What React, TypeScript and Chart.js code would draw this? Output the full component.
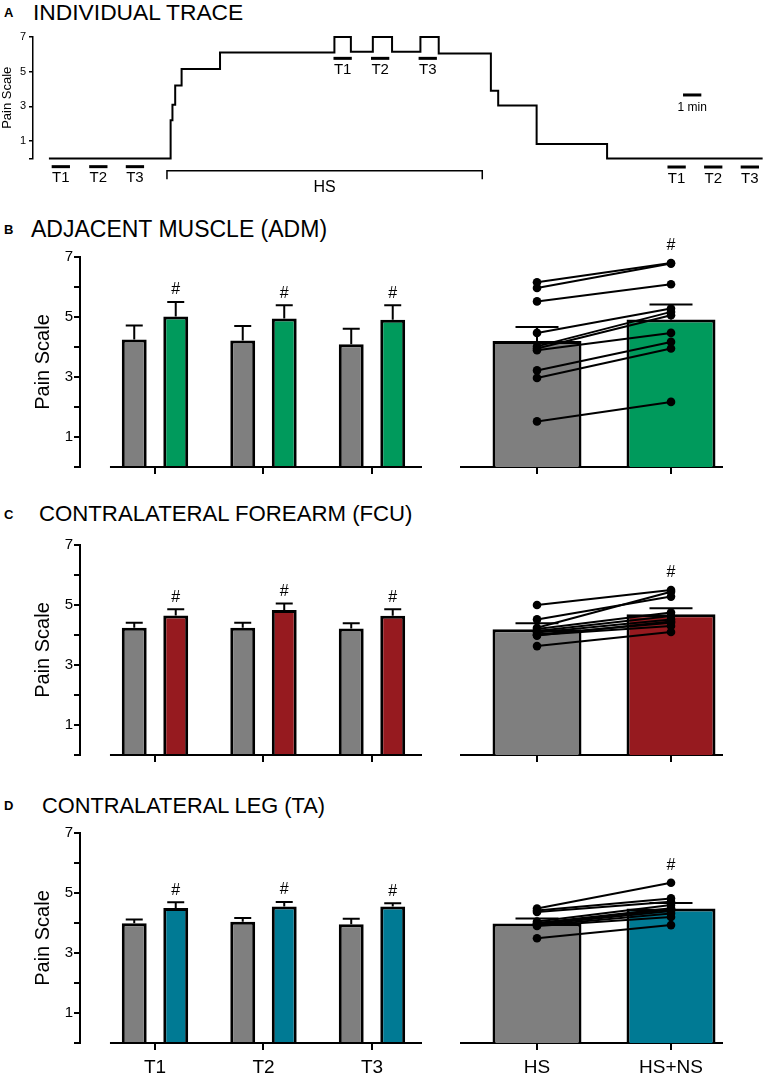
import React, { useEffect, useRef } from 'react';
import { Chart, registerables } from 'chart.js';

Chart.register(...registerables);

const FONT = '"Liberation Sans", Arial, Helvetica, sans-serif';

// ---------------- Panel A: individual trace (time in minutes) ----------------
const traceTimes = [0, 6.65, 6.75, 6.9, 7.25, 9.35, 15.6, 16.5, 17.7, 18.75, 20.3, 21.3, 24.15, 24.55, 26.65, 30.5, 39];
const traceLevels = [0, 2.2, 3.1, 4.2, 5.15, 6.1, 7.0, 6.15, 7.0, 6.15, 7.0, 6.05, 3.9, 3.05, 0.83, 0, 0];
const testLabels = ['T1', 'T2', 'T3'];
const preTestStarts = [0.15, 2.2, 4.2];
const hsTestStarts = [15.55, 17.6, 20.2];
const postTestStarts = [33.8, 35.8, 37.8];
const testDurationMin = 1;
const hsPeriod = [6.45, 23.68];
const scaleBarStartMin = 34.65;
const scaleBarLengthMin = 1;
const painTicksA = [0, 1, 3, 5, 7];

// ---------------- Panels B–D ----------------
const timeCategories = ['T1', 'T2', 'T3'];
const conditionCategories = ['HS', 'HS+NS'];
const painTicks = [0, 1, 2, 3, 4, 5, 6, 7];

// B: adjacent muscle (ADM)
const admHS = [4.25, 4.22, 4.09];
const admHSsem = [0.47, 0.48, 0.52];
const admNS = [5.02, 4.95, 4.91];
const admNSsem = [0.48, 0.44, 0.48];
const admMeans = [4.2, 4.92];
const admMeanSems = [0.47, 0.5];
const admSubjectsHS = [6.16, 5.97, 5.52, 4.47, 4.02, 3.95, 3.89, 3.22, 2.97, 1.52];
const admSubjectsNS = [6.8, 6.78, 6.09, 5.28, 5.17, 5.06, 4.47, 4.17, 3.95, 2.17];

// C: contralateral forearm (FCU)
const fcuHS = [4.24, 4.24, 4.22];
const fcuHSsem = [0.17, 0.17, 0.17];
const fcuNS = [4.65, 4.83, 4.64];
const fcuNSsem = [0.21, 0.22, 0.22];
const fcuMeans = [4.19, 4.69];
const fcuMeanSems = [0.2, 0.2];
const fcuSubjectsHS = [5.0, 4.52, 4.24, 4.2, 4.13, 4.08, 4.02, 3.98, 4.0, 3.63];
const fcuSubjectsNS = [5.5, 5.28, 5.44, 4.75, 4.63, 4.52, 4.41, 4.45, 4.3, 4.1];

// D: contralateral leg (TA)
const taHS = [3.99, 4.04, 3.96];
const taHSsem = [0.13, 0.13, 0.18];
const taNS = [4.5, 4.55, 4.55];
const taNSsem = [0.19, 0.15, 0.11];
const taMeans = [3.98, 4.48];
const taMeanSems = [0.17, 0.19];
const taSubjectsHS = [4.48, 4.42, 4.37, 4.05, 4.0, 3.98, 3.95, 3.92, 3.9, 3.49];
const taSubjectsNS = [5.34, 4.82, 4.71, 4.6, 4.49, 4.45, 4.4, 4.32, 4.2, 3.93];

// ---------------- Styles / layout ----------------
const GRAY = '#7f7f7f';
const GREEN = '#009a5c';
const RED = '#961a1f';
const TEAL = '#007a94';

const LEFT_X_MIN = 0.3088;
const LEFT_X_MAX = 3.461;
const LEFT_X_AXIS_START = 0.585;
const RIGHT_X_MIN = 0.4328;
const RIGHT_X_MAX = 2.3806;

type Panel = {
  top7: number;
  hs: number[]; hsSem: number[]; ns: number[]; nsSem: number[];
  means: number[]; meanSems: number[];
  subjHS: number[]; subjNS: number[];
  color: string; showLabels: boolean;
};

const panels: Panel[] = [
  { top7: 257, hs: admHS, hsSem: admHSsem, ns: admNS, nsSem: admNSsem, means: admMeans, meanSems: admMeanSems, subjHS: admSubjectsHS, subjNS: admSubjectsNS, color: GREEN, showLabels: false },
  { top7: 545, hs: fcuHS, hsSem: fcuHSsem, ns: fcuNS, nsSem: fcuNSsem, means: fcuMeans, meanSems: fcuMeanSems, subjHS: fcuSubjectsHS, subjNS: fcuSubjectsNS, color: RED, showLabels: false },
  { top7: 833, hs: taHS, hsSem: taHSsem, ns: taNS, nsSem: taNSsem, means: taMeans, meanSems: taMeanSems, subjHS: taSubjectsHS, subjNS: taSubjectsNS, color: TEAL, showLabels: true },
];

const titles = [
  { letter: 'A', text: 'INDIVIDUAL TRACE', y: 12.5, x: 33, size: 22.8 },
  { letter: 'B', text: 'ADJACENT MUSCLE (ADM)', y: 229, x: 31, size: 23 },
  { letter: 'C', text: 'CONTRALATERAL FOREARM (FCU)', y: 514, x: 39, size: 22.2 },
  { letter: 'D', text: 'CONTRALATERAL LEG (TA)', y: 805.5, x: 42, size: 21.8 },
];

const CANVAS_H = 262;

// ---------------- Plugins ----------------
const barExtras = {
  id: 'barExtras',
  afterDatasetDraw(chart: any, args: any) {
    const meta = args.meta;
    if (meta.type !== 'bar') return;
    const ds: any = chart.data.datasets[args.index];
    const y = chart.scales.y;
    const ctx = chart.ctx;
    ctx.save();
    ctx.strokeStyle = '#000';
    ctx.lineWidth = 2;
    meta.data.forEach((bar: any, i: number) => {
      const v = ds.data[i].y;
      const top = y.getPixelForValue(v + ds.sem[i]);
      ctx.beginPath();
      ctx.moveTo(bar.x, bar.y);
      ctx.lineTo(bar.x, top);
      ctx.moveTo(bar.x - ds.capWidth / 2, top);
      ctx.lineTo(bar.x + ds.capWidth / 2, top);
      ctx.stroke();
    });
    ctx.restore();
  },
  afterDatasetsDraw(chart: any) {
    const ctx = chart.ctx;
    const y = chart.scales.y;
    ctx.save();
    ctx.fillStyle = '#000';
    ctx.font = `16px ${FONT}`;
    ctx.textAlign = 'center';
    ctx.textBaseline = 'middle';
    chart.data.datasets.forEach((ds: any, di: number) => {
      if (ds.type !== 'bar' || !ds.hash) return;
      const meta = chart.getDatasetMeta(di);
      meta.data.forEach((bar: any, i: number) => {
        if (!ds.hash[i]) return;
        const xv = ds.data[i].x;
        let pix = y.getPixelForValue(ds.data[i].y + ds.sem[i]) - 12;
        chart.data.datasets.forEach((o: any) => {
          if (o.type !== 'line') return;
          o.data.forEach((p: any) => {
            if (p.x === xv) pix = Math.min(pix, y.getPixelForValue(p.y) - 17);
          });
        });
        ctx.fillText('#', bar.x, pix);
      });
    });
    ctx.restore();
  },
};

const leftAxisLine = {
  id: 'leftAxisLine',
  afterDatasetsDraw(chart: any) {
    const { ctx, chartArea } = chart;
    const x = chart.scales.x;
    const y0 = chart.scales.y.getPixelForValue(0);
    ctx.save();
    ctx.strokeStyle = '#000';
    ctx.lineWidth = 2;
    ctx.beginPath();
    ctx.moveTo(x.getPixelForValue(LEFT_X_AXIS_START), y0);
    ctx.lineTo(chartArea.right, y0);
    ctx.stroke();
    ctx.restore();
  },
};

const traceAnnotations = {
  id: 'traceAnnotations',
  afterDraw(chart: any) {
    const { ctx } = chart;
    const x = chart.scales.x;
    const y = chart.scales.y;
    ctx.save();
    ctx.fillStyle = '#000';
    ctx.strokeStyle = '#000';
    ctx.textAlign = 'center';
    ctx.textBaseline = 'middle';
    const drawTests = (starts: number[], level: number) => {
      starts.forEach((s, i) => {
        const x0 = x.getPixelForValue(s);
        const x1 = x.getPixelForValue(s + testDurationMin);
        const yy = y.getPixelForValue(level);
        ctx.lineWidth = 3;
        ctx.beginPath();
        ctx.moveTo(x0, yy);
        ctx.lineTo(x1, yy);
        ctx.stroke();
        ctx.font = `15px ${FONT}`;
        ctx.fillText(testLabels[i], (x0 + x1) / 2, yy + 11.5);
      });
    };
    drawTests(preTestStarts, -0.47);
    drawTests(hsTestStarts, 5.77);
    drawTests(postTestStarts, -0.49);

    // HS bracket
    const hx0 = x.getPixelForValue(hsPeriod[0]);
    const hx1 = x.getPixelForValue(hsPeriod[1]);
    const hy = y.getPixelForValue(-0.7);
    const hyt = y.getPixelForValue(-1.2);
    ctx.lineWidth = 1.5;
    ctx.beginPath();
    ctx.moveTo(hx0, hyt);
    ctx.lineTo(hx0, hy);
    ctx.lineTo(hx1, hy);
    ctx.lineTo(hx1, hyt);
    ctx.stroke();
    ctx.font = `16px ${FONT}`;
    ctx.fillText('HS', (hx0 + hx1) / 2, y.getPixelForValue(-1.7));

    // 1 min scale bar
    const sx0 = x.getPixelForValue(scaleBarStartMin);
    const sx1 = x.getPixelForValue(scaleBarStartMin + scaleBarLengthMin);
    const sy = y.getPixelForValue(3.66);
    ctx.lineWidth = 3;
    ctx.beginPath();
    ctx.moveTo(sx0, sy);
    ctx.lineTo(sx1, sy);
    ctx.stroke();
    ctx.font = `12px ${FONT}`;
    ctx.fillText('1 min', (sx0 + sx1) / 2, sy + 12.5);
    ctx.restore();
  },
};

// ---------------- Chart builders ----------------
function makeTraceChart(canvas: HTMLCanvasElement) {
  return new Chart(canvas, {
    type: 'line',
    data: {
      datasets: [
        {
          data: traceTimes.map((t, i) => ({ x: t, y: traceLevels[i] })),
          stepped: 'before',
          borderColor: '#000',
          borderWidth: 2,
          pointRadius: 0,
          fill: false,
          clip: false,
        } as any,
      ],
    },
    options: {
      animation: false,
      responsive: false,
      maintainAspectRatio: false,
      layout: { padding: { left: 0, right: 2, top: 17, bottom: 41.5 } },
      plugins: { legend: { display: false }, tooltip: { enabled: false } },
      scales: {
        x: { type: 'linear', display: false, min: -0.87, max: 39.02 },
        y: {
          min: 0,
          max: 7,
          afterBuildTicks: (s: any) => { s.ticks = painTicksA.map((v) => ({ value: v })); },
          afterFit: (s: any) => { s.width = 33; },
          ticks: { font: { size: 11 }, padding: 3, color: '#000', callback: (v: any) => (Number(v) === 0 ? '' : String(v)) },
          grid: { drawOnChartArea: false, tickLength: 4, lineWidth: 1.5, color: '#000' },
          border: { display: true, width: 1.5, color: '#000' },
          title: { display: true, text: 'Pain Scale', font: { size: 13 }, padding: 0, color: '#000' },
        } as any,
      },
    },
    plugins: [traceAnnotations],
  } as any);
}

function makeTimeChart(canvas: HTMLCanvasElement, p: Panel) {
  const barStyle = {
    type: 'bar',
    borderColor: '#000',
    borderWidth: 3,
    borderSkipped: 'start',
    categoryPercentage: 0.765,
    barPercentage: 0.6,
    capWidth: 17,
    order: 2,
  };
  return new Chart(canvas, {
    type: 'bar',
    data: {
      datasets: [
        { ...barStyle, label: 'HS', data: p.hs.map((v, i) => ({ x: i + 1, y: v })), backgroundColor: GRAY, sem: p.hsSem, hash: p.hs.map(() => false) },
        { ...barStyle, label: 'HS+NS', data: p.ns.map((v, i) => ({ x: i + 1, y: v })), backgroundColor: p.color, sem: p.nsSem, hash: p.ns.map(() => true) },
      ] as any,
    },
    options: {
      animation: false,
      responsive: false,
      maintainAspectRatio: false,
      layout: { padding: { left: 31, right: 3, top: 20, bottom: 0 } },
      plugins: { legend: { display: false }, tooltip: { enabled: false } },
      scales: {
        x: {
          type: 'linear',
          min: LEFT_X_MIN,
          max: LEFT_X_MAX,
          offset: false,
          afterBuildTicks: (s: any) => { s.ticks = timeCategories.map((_, i) => ({ value: i + 1 })); },
          afterFit: (s: any) => { s.height = CANVAS_H - 20 - 210; },
          ticks: { autoSkip: false, maxRotation: 0, padding: 6, color: '#000', font: { size: 19 }, callback: (v: any) => (p.showLabels ? timeCategories[Number(v) - 1] : '') },
          grid: { display: true, drawOnChartArea: false, drawTicks: true, tickLength: 7, lineWidth: 2, color: '#000', offset: false },
          border: { display: false },
        },
        y: {
          min: 0,
          max: 7,
          afterBuildTicks: (s: any) => { s.ticks = painTicks.map((v) => ({ value: v })); },
          afterFit: (s: any) => { s.width = 49; },
          ticks: { padding: 1, color: '#000', font: { size: 15 }, callback: (v: any) => (Number(v) % 2 === 1 ? String(v) : '') },
          grid: { drawOnChartArea: false, tickLength: 6, lineWidth: 2, color: '#000' },
          border: { display: true, width: 2, color: '#000' },
          title: { display: true, text: 'Pain Scale', font: { size: 20 }, padding: 0, color: '#000' },
        },
      } as any,
    },
    plugins: [barExtras, leftAxisLine],
  } as any);
}

function makeConditionChart(canvas: HTMLCanvasElement, p: Panel) {
  const lineSets = p.subjHS.map((h, i) => ({
    type: 'line',
    data: [{ x: 1, y: h }, { x: 2, y: p.subjNS[i] }],
    borderColor: '#000',
    borderWidth: 2,
    pointRadius: 4.3,
    pointBackgroundColor: '#000',
    pointBorderColor: '#000',
    pointBorderWidth: 0,
    fill: false,
    order: 1,
  }));
  return new Chart(canvas, {
    type: 'bar',
    data: {
      datasets: [
        {
          type: 'bar',
          data: p.means.map((v, i) => ({ x: i + 1, y: v })),
          backgroundColor: [GRAY, p.color],
          borderColor: '#000',
          borderWidth: 3,
          borderSkipped: 'start',
          categoryPercentage: 1,
          barPercentage: 0.664,
          sem: p.meanSems,
          capWidth: 43,
          hash: [false, true],
          order: 2,
        },
        ...lineSets,
      ] as any,
    },
    options: {
      animation: false,
      responsive: false,
      maintainAspectRatio: false,
      layout: { padding: { left: 36, right: 43, top: 20, bottom: 0 } },
      plugins: { legend: { display: false }, tooltip: { enabled: false } },
      scales: {
        x: {
          type: 'linear',
          min: RIGHT_X_MIN,
          max: RIGHT_X_MAX,
          offset: false,
          z: 1,
          afterBuildTicks: (s: any) => { s.ticks = conditionCategories.map((_, i) => ({ value: i + 1 })); },
          afterFit: (s: any) => { s.height = CANVAS_H - 20 - 210; },
          ticks: { autoSkip: false, maxRotation: 0, padding: 6, color: '#000', font: { size: 19 }, callback: (v: any) => (p.showLabels ? conditionCategories[Number(v) - 1] : '') },
          grid: { display: true, drawOnChartArea: false, drawTicks: true, tickLength: 7, lineWidth: 2, color: '#000', offset: false },
          border: { display: true, width: 2, color: '#000' },
        },
        y: { display: false, min: 0, max: 7 },
      } as any,
    },
    plugins: [barExtras],
  } as any);
}

export default function App() {
  const traceRef = useRef<HTMLCanvasElement | null>(null);
  const leftRefs = useRef<(HTMLCanvasElement | null)[]>([]);
  const rightRefs = useRef<(HTMLCanvasElement | null)[]>([]);

  useEffect(() => {
    Chart.defaults.font.family = FONT;
    Chart.defaults.color = '#000';
    const charts: Chart[] = [];
    if (traceRef.current) charts.push(makeTraceChart(traceRef.current));
    panels.forEach((p, i) => {
      const l = leftRefs.current[i];
      const r = rightRefs.current[i];
      if (l) charts.push(makeTimeChart(l, p));
      if (r) charts.push(makeConditionChart(r, p));
    });
    return () => charts.forEach((c) => c.destroy());
  }, []);

  return (
    <div style={{ position: 'absolute', left: 0, top: 0, width: 765, height: 1077, overflow: 'hidden', background: '#fff', fontFamily: FONT, color: '#000' }}>
      {titles.map((t) => (
        <React.Fragment key={t.letter}>
          <div style={{ position: 'absolute', left: 4, top: t.y - 6.5, fontSize: 13, lineHeight: '13px', fontWeight: 'bold', whiteSpace: 'nowrap' }}>{t.letter}</div>
          <div style={{ position: 'absolute', left: t.x, top: t.y - t.size / 2, fontSize: t.size, lineHeight: `${t.size}px`, whiteSpace: 'nowrap' }}>{t.text}</div>
        </React.Fragment>
      ))}
      <canvas ref={traceRef} width={765} height={180} style={{ position: 'absolute', left: 0, top: 20, width: 765, height: 180 }} />
      {panels.map((p, i) => (
        <React.Fragment key={i}>
          <canvas
            ref={(el) => { leftRefs.current[i] = el; }}
            width={425}
            height={CANVAS_H}
            style={{ position: 'absolute', left: 0, top: p.top7 - 20, width: 425, height: CANVAS_H }}
          />
          <canvas
            ref={(el) => { rightRefs.current[i] = el; }}
            width={340}
            height={CANVAS_H}
            style={{ position: 'absolute', left: 425, top: p.top7 - 20, width: 340, height: CANVAS_H }}
          />
        </React.Fragment>
      ))}
    </div>
  );
}
